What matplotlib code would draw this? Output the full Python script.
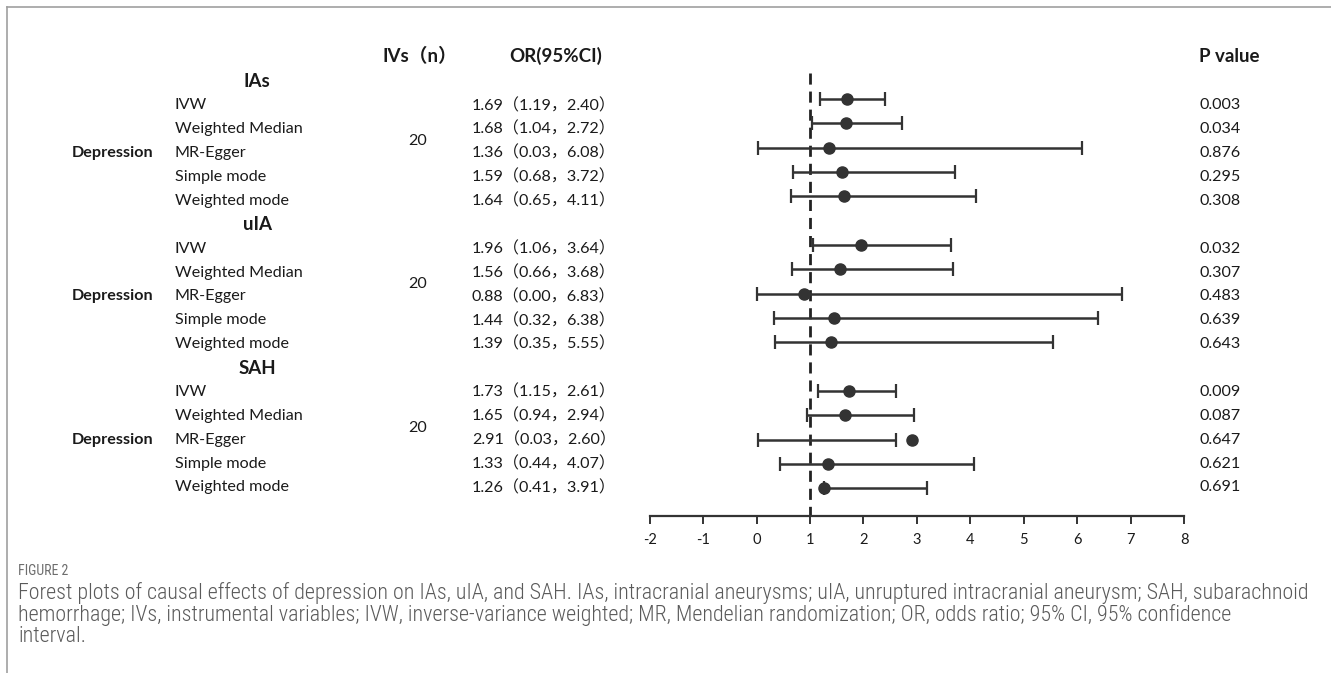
import matplotlib
matplotlib.use("Agg")
import matplotlib.pyplot as plt
from matplotlib import font_manager

# ---------------- data ----------------
outcomes = ["IAs", "uIA", "SAH"]
exposure = "Depression"
n_ivs = [20, 20, 20]
methods = ["IVW", "Weighted Median", "MR-Egger", "Simple mode", "Weighted mode"]

or_ias = [1.69, 1.68, 1.36, 1.59, 1.64]
lo_ias = [1.19, 1.04, 0.03, 0.68, 0.65]
hi_ias = [2.40, 2.72, 6.08, 3.72, 4.11]
p_ias = ["0.003", "0.034", "0.876", "0.295", "0.308"]

or_uia = [1.96, 1.56, 0.88, 1.44, 1.39]
lo_uia = [1.06, 0.66, 0.00, 0.32, 0.35]
hi_uia = [3.64, 3.68, 6.83, 6.38, 5.55]
p_uia = ["0.032", "0.307", "0.483", "0.639", "0.643"]

or_sah = [1.73, 1.65, 2.91, 1.33, 1.26]
lo_sah = [1.15, 0.94, 0.03, 0.44, 0.41]
hi_sah = [2.61, 2.94, 2.60, 4.07, 3.91]
p_sah = ["0.009", "0.087", "0.647", "0.621", "0.691"]

# whisker ends as drawn in the figure (differs from the table for SAH weighted mode)
lo_sah_drawn = [1.15, 0.94, 0.03, 0.44, 1.26]
hi_sah_drawn = [2.61, 2.94, 2.60, 4.07, 3.19]

xticks = [-2, -1, 0, 1, 2, 3, 4, 5, 6, 7, 8]
ref_line = 1

caption_label = "FIGURE 2"
caption_lines = [
    "Forest plots of causal effects of depression on IAs, uIA, and SAH. IAs, intracranial aneurysms; uIA, unruptured intracranial aneurysm; SAH, subarachnoid",
    "hemorrhage; IVs, instrumental variables; IVW, inverse-variance weighted; MR, Mendelian randomization; OR, odds ratio; 95% CI, 95% confidence",
    "interval.",
]

groups = [
    (or_ias, lo_ias, hi_ias, lo_ias, hi_ias, p_ias),
    (or_uia, lo_uia, hi_uia, lo_uia, hi_uia, p_uia),
    (or_sah, lo_sah, hi_sah, lo_sah_drawn, hi_sah_drawn, p_sah),
]

# pick a condensed font for the caption if one is installed
installed = {f.name for f in font_manager.fontManager.ttflist}
cap_font = None
for cand in ["Roboto Condensed", "Liberation Sans Narrow", "Open Sans Condensed", "Noto Sans Condensed",
             "DejaVu Sans Condensed", "Roboto", "Open Sans"]:
    if cand in installed:
        cap_font = cand
        break
capfam = [cap_font, "DejaVu Sans"] if cap_font else ["DejaVu Sans"]
cap_stretch = "condensed"

# ---------------- layout ----------------
W, H = 1331, 673
fig = plt.figure(figsize=(W / 100, H / 100), dpi=100)
bg = fig.add_axes([0, 0, 1, 1])
bg.set_xlim(0, W)
bg.set_ylim(H, 0)
bg.axis("off")

LAT = ["Lato", "DejaVu Sans"]
MIX = ["Lato", "Noto Sans CJK SC", "DejaVu Sans"]
txtc = "#1a1a1a"
fs = 11.6
hfs = 13.5

# frame
bg.plot([7, 7], [7, H], color="#a0a0a0", lw=1.2)
bg.plot([7, W], [7, 7], color="#a0a0a0", lw=1.2)

# plot axes: x in data units, y in pixel units
x_left, x_right = 649.6, 1184.3
y_top, y_axis = 70, 516
ax = fig.add_axes([x_left / W, 1 - y_axis / H, (x_right - x_left) / W, (y_axis - y_top) / H])
ax.set_xlim(xticks[0], xticks[-1])
ax.set_ylim(y_axis, y_top)
ax.patch.set_alpha(0)
for s in ["top", "right", "left"]:
    ax.spines[s].set_visible(False)
ax.spines["bottom"].set_linewidth(1.6)
ax.spines["bottom"].set_color("#333333")
ax.set_yticks([])
ax.set_xticks(xticks)
ax.set_xticklabels([str(t) for t in xticks], family=LAT, fontsize=10.5, color=txtc)
ax.tick_params(axis="x", direction="out", length=6, width=1.4, color="#333333", pad=6)

ax.plot([ref_line, ref_line], [73, y_axis], color="#222222", lw=2, linestyle=(0, (4, 2.5)), zorder=1)

# headers
hdr_y = 56
bg.text(420, hdr_y, "IVs（n）", ha="center", va="center", family=MIX, fontsize=hfs, fontweight="bold", color=txtc)
bg.text(556, hdr_y, "OR(95%CI)", ha="center", va="center", family=LAT, fontsize=hfs, fontweight="bold", color=txtc)
bg.text(1199, hdr_y, "P value", ha="left", va="center", family=LAT, fontsize=hfs, fontweight="bold", color=txtc)

text_y0, text_dy = 81.5, 23.88
dot_y0, dot_dy = 99, 24.33

dotc = "#333333"
k = 0
for g, (ors, los, his, lod, hid, ps) in enumerate(groups):
    ty = text_y0 + k * text_dy
    bg.text(257, ty, outcomes[g], ha="center", va="center", family=LAT, fontsize=hfs, fontweight="bold", color=txtc)
    k += 1
    k_start = k
    for i, m in enumerate(methods):
        ty = text_y0 + k * text_dy
        dy = dot_y0 + (k - 1) * dot_dy
        bg.text(175, ty, m, ha="left", va="center", family=LAT, fontsize=fs, color=txtc)
        bg.text(472, ty, f"{ors[i]:.2f}（{los[i]:.2f}，{his[i]:.2f}）", ha="left", va="center",
                family=MIX, fontsize=fs, color=txtc)
        bg.text(1200, ty, ps[i], ha="left", va="center", family=LAT, fontsize=fs, color=txtc)
        ax.hlines(dy, lod[i], hid[i], color=dotc, lw=1.8, zorder=2)
        ax.plot([lod[i], hid[i]], [dy, dy], linestyle="none", marker="|", markersize=10,
                markeredgewidth=1.6, color=dotc, zorder=2)
        ax.plot(ors[i], dy, marker="o", markersize=8, color=dotc, linestyle="none", zorder=3)
        k += 1
    mid_wm = text_y0 + (k_start + 1.5) * text_dy
    bg.text(418, mid_wm, str(n_ivs[g]), ha="center", va="center", family=LAT, fontsize=fs, color=txtc)
    bg.text(153, text_y0 + (k_start + 2) * text_dy, exposure, ha="right", va="center", family=LAT,
            fontsize=fs, fontweight="bold", color=txtc)

# caption
bg.text(18, 571, caption_label, ha="left", va="center", family=capfam, fontstretch=cap_stretch,
        fontsize=10, color="#6d6d6d")
cap_ys = [593, 615, 637]
fig.canvas.draw()
r = fig.canvas.get_renderer()
t0 = bg.text(18, cap_ys[0], caption_lines[0], ha="left", va="center", family=capfam,
             fontstretch=cap_stretch, fontweight="light", fontsize=12, color="#5a5a5a")
w = t0.get_window_extent(renderer=r).width
cfs = 12 * (1313 - 18) / w
t0.set_fontsize(cfs)
for line, y in zip(caption_lines[1:], cap_ys[1:]):
    bg.text(18, y, line, ha="left", va="center", family=capfam, fontstretch=cap_stretch,
            fontweight="light", fontsize=cfs, color="#5a5a5a")

fig.savefig("out.png", dpi=100)
